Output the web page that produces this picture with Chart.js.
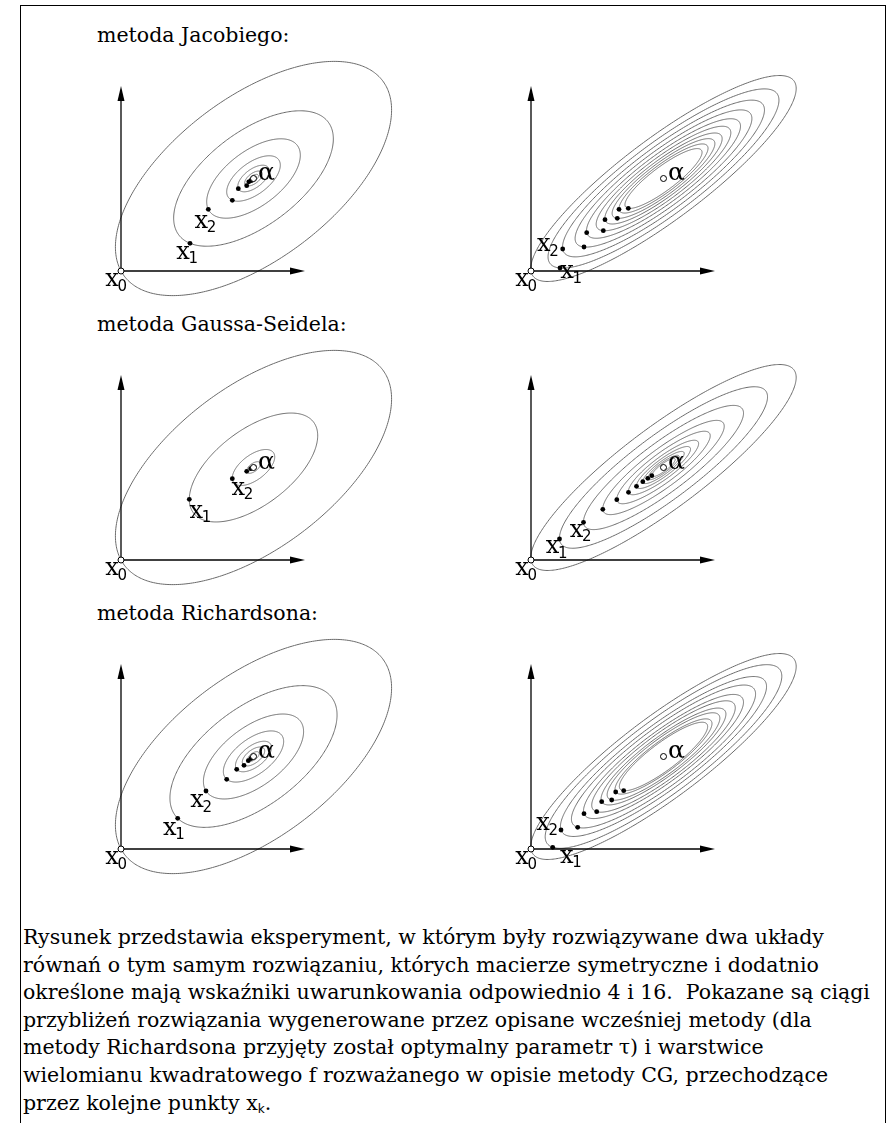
<!DOCTYPE html>
<html lang="pl"><head><meta charset="utf-8"><title>Metody iteracyjne – warstwice</title>
<script src="https://cdn.jsdelivr.net/npm/chart.js@4.4.1/dist/chart.umd.min.js"></script>
<style>
html,body{margin:0;padding:0;background:#fff;}
body{width:890px;height:1123px;position:relative;overflow:hidden;font-family:"DejaVu Serif",serif;color:#000;}
#frame{position:absolute;left:20px;top:5px;width:866px;height:1300px;border:1px solid #000;box-sizing:border-box;}
.hdr{position:absolute;left:97px;font-size:20.5px;line-height:1;white-space:nowrap;}
.pane{position:absolute;}
#cap{position:absolute;left:23px;top:924px;font-size:20.5px;line-height:27.6px;white-space:nowrap;}
#cap .m{font-family:"DejaVu Serif",serif;}
#cap sub{font-family:"DejaVu Sans",sans-serif;font-size:12px;vertical-align:-3px;line-height:0;}
</style></head>
<body>
<div id="frame"></div>
<div class="hdr" style="top:25px">metoda Jacobiego:</div>
<div class="hdr" style="top:314px">metoda Gaussa-Seidela:</div>
<div class="hdr" style="top:603px">metoda Richardsona:</div>
<canvas id="c1" class="pane" width="340" height="260" style="left:91px;top:50px"></canvas>
<canvas id="c2" class="pane" width="340" height="260" style="left:501px;top:50px"></canvas>
<canvas id="c3" class="pane" width="340" height="260" style="left:91px;top:339px"></canvas>
<canvas id="c4" class="pane" width="340" height="260" style="left:501px;top:339px"></canvas>
<canvas id="c5" class="pane" width="340" height="260" style="left:91px;top:628px"></canvas>
<canvas id="c6" class="pane" width="340" height="260" style="left:501px;top:628px"></canvas>
<div id="cap">Rysunek przedstawia eksperyment, w którym były rozwiązywane dwa układy<br>równań o tym samym rozwiązaniu, których macierze symetryczne i dodatnio<br>określone mają wskaźniki uwarunkowania odpowiednio 4 i 16.&nbsp; Pokazane są ciągi<br>przybliżeń rozwiązania wygenerowane przez opisane wcześniej metody (dla<br>metody Richardsona przyjęty został optymalny parametr τ) i warstwice<br>wielomianu kwadratowego f rozważanego w opisie metody CG, przechodzące<br>przez kolejne punkty <span class="m">x<sub>k</sub></span>.</div>
<script>
// ---- data (1 unit = 100 px) ----
const ALPHA = [1.325, 0.925];                       // common solution
const A_COND4  = [[1.0, -0.69], [-0.69, 1.39]];      // matrix with condition number 4
const A_COND16 = [[1.0, -1.126], [-1.126, 1.66]];    // matrix with condition number 16
const JACOBI_C4  = [[0,0],[0.69,0.277],[0.873,0.617],[1.113,0.707],[1.173,0.823],[1.257,0.853],[1.278,0.892],[1.30,0.903]];
const JACOBI_C16 = [[0,0],[0.29,0.03],[0.317,0.22],[0.53,0.24],[0.557,0.383],[0.723,0.403],[0.74,0.513],[0.863,0.527],[0.88,0.617],[0.973,0.627]];
const GS_C4      = [[0,0],[0.683,0.607],[1.113,0.813],[1.257,0.887],[1.297,0.913]];
const GS_C16     = [[0,0],[0.285,0.21],[0.525,0.377],[0.718,0.507],[0.858,0.603],[0.975,0.677],[1.055,0.737],[1.118,0.783],[1.168,0.817],[1.208,0.843]];
const RICH_C4    = [[0,0],[0.567,0.307],[0.85,0.58],[1.057,0.697],[1.157,0.797],[1.23,0.837],[1.273,0.883],[1.30,0.905]];
const RICH_C16   = [[0,0],[0.217,0.017],[0.30,0.19],[0.467,0.217],[0.53,0.353],[0.657,0.373],[0.707,0.473],[0.807,0.49],[0.847,0.57],[0.927,0.583]];
const AXIS_X_END = 1.84, AXIS_Y_END = 1.85;
const X_RANGE = [-0.30, 3.10], Y_RANGE = [-0.39, 2.21];

// ---- layout (label offsets in px relative to the labelled point) ----
const LABELS = {
  c1: [[0,'0',-9,9],[1,'1',-7,9],[2,'2',-7,12]],
  c2: [[0,'0',-9,9],[1,'1',7,4],[2,'2',-19,-4]],
  c3: [[0,'0',-9,9],[1,'1',7,12],[2,'2',6,10]],
  c4: [[0,'0',-9,9],[1,'1',-7,8],[2,'2',-7,8]],
  c5: [[0,'0',-9,9],[1,'1',-8,10],[2,'2',-9,10]],
  c6: [[0,'0',-9,9],[1,'1',14,9],[2,'2',-18,-6]]
};
const ALPHA_LABEL = [13,-5];

const contourPlugin = {
  id: 'contours',
  beforeDatasetsDraw(chart, args, o) {
    const ctx = chart.ctx, sx = chart.scales.x, sy = chart.scales.y;
    const A = o.matrix, a = o.alpha;
    const p = A[0][0], q = A[0][1], r = A[1][1];
    const tr = p + r, det = p*r - q*q;
    const disc = Math.sqrt(Math.max(tr*tr/4 - det, 0));
    const l1 = tr/2 + disc, l2 = tr/2 - disc;
    let vx = l1 - r, vy = q; const n = Math.hypot(vx, vy); vx /= n; vy /= n;
    ctx.save();
    ctx.strokeStyle = '#6a6a6a'; ctx.lineWidth = 1;
    for (const pt of o.points) {
      const ex = pt[0]-a[0], ey = pt[1]-a[1];
      const c = p*ex*ex + 2*q*ex*ey + r*ey*ey;
      const r1 = Math.sqrt(c/l1), r2 = Math.sqrt(c/l2);
      ctx.beginPath();
      const N = 360;
      for (let i = 0; i <= N; i++) {
        const t = 2*Math.PI*i/N, u = r1*Math.cos(t), w = r2*Math.sin(t);
        const X = a[0] + u*vx - w*vy, Y = a[1] + u*vy + w*vx;
        const px = sx.getPixelForValue(X), py = sy.getPixelForValue(Y);
        if (i === 0) ctx.moveTo(px, py); else ctx.lineTo(px, py);
      }
      ctx.closePath(); ctx.stroke();
    }
    ctx.restore();
  },
  afterDatasetsDraw(chart, args, o) {
    const ctx = chart.ctx, sx = chart.scales.x, sy = chart.scales.y;
    const ox = sx.getPixelForValue(0), oy = sy.getPixelForValue(0);
    const tx = sx.getPixelForValue(AXIS_X_END), ty = sy.getPixelForValue(AXIS_Y_END);
    ctx.save();
    ctx.fillStyle = '#000';
    ctx.beginPath(); ctx.moveTo(tx, oy); ctx.lineTo(tx-15, oy-3.5); ctx.lineTo(tx-15, oy+3.5); ctx.closePath(); ctx.fill();
    ctx.beginPath(); ctx.moveTo(ox, ty); ctx.lineTo(ox-3.5, ty+15); ctx.lineTo(ox+3.5, ty+15); ctx.closePath(); ctx.fill();
    ctx.textBaseline = 'alphabetic';
    for (const [idx, sub, dx, dy] of o.labels) {
      const pt = o.points[idx];
      const cx = sx.getPixelForValue(pt[0]) + dx, cy = sy.getPixelForValue(pt[1]) + dy;
      ctx.font = '24px "DejaVu Serif"';
      ctx.textAlign = 'center';
      ctx.fillText('x', cx, cy + 6.2);
      ctx.font = '15px "DejaVu Sans"';
      ctx.textAlign = 'left';
      ctx.fillText(sub, cx + 5.5, cy + 10.5);
    }
    ctx.font = '25px "DejaVu Serif"'; ctx.textAlign = 'center';
    ctx.fillText('α', sx.getPixelForValue(o.alpha[0]) + ALPHA_LABEL[0], sy.getPixelForValue(o.alpha[1]) + ALPHA_LABEL[1] + 6);
    ctx.restore();
  }
};

function makePanel(id, matrix, points) {
  const xy = points.map(p => ({x: p[0], y: p[1]}));
  new Chart(document.getElementById(id), {
    type: 'scatter',
    data: { datasets: [
      { label: 'x0, α', data: [xy[0], {x: ALPHA[0], y: ALPHA[1]}], pointRadius: 3, backgroundColor: '#fff', borderColor: '#000', borderWidth: 1, showLine: false },
      { label: 'iteracje', data: xy.slice(1), pointRadius: 2.4, pointBorderWidth: 0, backgroundColor: '#000', borderColor: '#000', showLine: false },
      { label: 'oś x', data: [{x: 0, y: 0}, {x: AXIS_X_END - 0.08, y: 0}], showLine: true, pointRadius: 0, borderColor: '#000', borderWidth: 1.3 },
      { label: 'oś y', data: [{x: 0, y: 0}, {x: 0, y: AXIS_Y_END - 0.08}], showLine: true, pointRadius: 0, borderColor: '#000', borderWidth: 1.3 }
    ]},
    options: {
      responsive: false, animation: false, events: [],
      layout: { padding: 0, autoPadding: false },
      scales: {
        x: { type: 'linear', min: X_RANGE[0], max: X_RANGE[1], display: false },
        y: { type: 'linear', min: Y_RANGE[0], max: Y_RANGE[1], display: false }
      },
      plugins: { legend: { display: false }, tooltip: { enabled: false },
        contours: { matrix, alpha: ALPHA, points, labels: LABELS[id] } }
    },
    plugins: [contourPlugin]
  });
}
makePanel('c1', A_COND4, JACOBI_C4);
makePanel('c2', A_COND16, JACOBI_C16);
makePanel('c3', A_COND4, GS_C4);
makePanel('c4', A_COND16, GS_C16);
makePanel('c5', A_COND4, RICH_C4);
makePanel('c6', A_COND16, RICH_C16);
</script>
</body></html>
